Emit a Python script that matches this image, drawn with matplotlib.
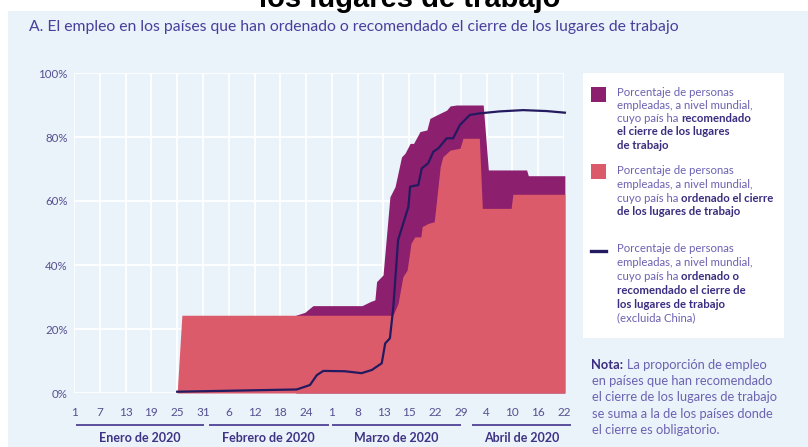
import matplotlib
matplotlib.use("Agg")
import matplotlib.pyplot as plt
from matplotlib.patches import Rectangle
from matplotlib.lines import Line2D
import matplotlib.transforms as mtransforms

# ---------------- data ----------------
tick_labels = ["1", "7", "13", "19", "25", "31", "6", "12", "18", "24",
               "1", "8", "13", "15", "22", "29", "4", "10", "16", "22"]
tick_pos = [6 * i for i in range(len(tick_labels))]
months = ["Enero de 2020", "Febrero de 2020", "Marzo de 2020", "Abril de 2020"]
month_start = [0.6, 31.6, 60.3, 92.8]
month_end = [30.1, 59.0, 89.8, 115.4]
y_ticks = [0, 20, 40, 60, 80, 100]

# share (%) of employed people in countries that ORDERED closures
ordered_x = [24.0, 25.1, 74.2, 75.4, 76.5, 77.5, 78.4, 79.3, 80.7, 81.0, 82.4,
             83.8, 85.2, 85.8, 87.5, 89.8, 90.5, 94.3, 95.0, 101.7, 102.1, 114.2]
ordered_y = [0.0, 24.3, 24.3, 28.0, 36.3, 38.4, 46.8, 48.8, 48.8, 52.0, 53.0,
             53.5, 70.7, 73.8, 75.9, 76.5, 79.6, 79.6, 57.7, 57.7, 62.1, 62.1]

# ordered + recommended (%)
total_x = [51.6, 53.7, 55.6, 67.0, 69.0, 70.0, 70.4, 71.9, 73.5, 74.7, 76.2,
           77.0, 78.2, 79.0, 80.5, 82.1, 82.8, 84.4, 86.7, 87.5, 89.0, 95.2,
           96.4, 105.3, 105.7, 114.2]
total_y = [24.3, 25.2, 27.3, 27.3, 28.6, 29.1, 34.8, 36.9, 61.3, 64.5, 73.8,
           74.9, 78.0, 78.0, 81.7, 82.2, 85.8, 86.9, 88.4, 89.7, 90.0, 90.0,
           69.7, 69.7, 67.9, 67.9]

# ordered or recommended, excluding China (%)
line_x = [24.0, 51.8, 54.9, 56.5, 58.0, 63.0, 66.9, 69.3, 71.6, 72.4, 73.5,
          74.3, 75.4, 76.6, 77.8, 78.2, 80.1, 80.9, 82.4, 83.6, 84.8, 86.7,
          88.2, 89.8, 92.1, 94.5, 99.0, 104.5, 110.0, 114.2]
line_y = [0.4, 1.1, 2.5, 5.6, 6.9, 6.8, 6.2, 7.2, 9.3, 15.5, 17.1,
          27.0, 47.8, 53.0, 58.2, 64.5, 65.0, 70.2, 71.8, 75.4, 76.5, 79.6,
          79.6, 83.8, 86.9, 87.4, 88.0, 88.4, 88.1, 87.6]

# ---------------- style ----------------
W, H = 808, 447
BG = "#EAF2FA"
C_REC = "#8C1F6E"
C_ORD = "#DC5B6B"
C_LINE = "#241A60"
C_TXT = "#6C62B2"
C_BOLD = "#3A2C7E"
C_TICK = "#55508F"
FONT = "Lato"

plt.rcParams["font.family"] = [FONT, "DejaVu Sans"]

fig = plt.figure(figsize=(W / 100, H / 100), dpi=100, facecolor="white")


def fx(px):
    return px / W


def fy(py):
    return 1 - py / H


# panel background
fig.patches.append(Rectangle((fx(8), 0), 1 - fx(8), fy(11), transform=fig.transFigure,
                             facecolor=BG, edgecolor="none", zorder=-5))

# clipped main title (only its lower part visible)
fig.text(fx(410), fy(7), "los lugares de trabajo", fontsize=21, fontweight="bold",
         family="Liberation Sans", color="black", ha="center", va="baseline", zorder=6)

# subtitle
fig.text(fx(29), fy(27), "A. El empleo en los países que han ordenado o recomendado el cierre de los lugares de trabajo",
         fontsize=11.3, color="#4A3E9C", ha="left", va="center")

# ---------------- axes ----------------
ax = fig.add_axes([fx(74), fy(393), fx(564) - fx(74), fy(73) - fy(393)])
ax.set_zorder(2)
ax.set_facecolor(BG)
ax.set_xlim(0, 114)
ax.set_ylim(0, 100)
for s in ax.spines.values():
    s.set_visible(False)
ax.set_axisbelow(True)
ax.grid(True, color="white", linewidth=1.3)
ax.set_xticks(tick_pos)
ax.set_xticklabels(tick_labels)
ax.set_yticks(y_ticks)
ax.set_yticklabels([f"{v}%" for v in y_ticks])
ax.tick_params(axis="x", length=0, pad=10, labelsize=8.5, labelcolor=C_TICK)
ax.tick_params(axis="y", length=0, pad=4.5, labelsize=8.3, labelcolor=C_TICK)

ax.fill_between(total_x, 0, total_y, color=C_REC, linewidth=0, zorder=2, clip_on=False)
ax.fill_between(ordered_x, 0, ordered_y, color=C_ORD, linewidth=0, zorder=3, clip_on=False)
ax.plot(line_x, line_y, color=C_LINE, linewidth=1.6, zorder=4, clip_on=False)

# month brackets
trans = mtransforms.blended_transform_factory(ax.transData, fig.transFigure)
for name, a, b in zip(months, month_start, month_end):
    fig.add_artist(Line2D([a, b], [fy(425), fy(425)], transform=trans,
                          color="#5B4E9C", linewidth=1.4))
    fig.text((a + b) / 2, fy(437.5), name, transform=trans, ha="center", va="center",
             fontsize=9.0, fontweight="bold", color="#3F3484")

# ---------------- legend ----------------
fig.patches.append(Rectangle((fx(583), fy(338)), fx(784) - fx(583), fy(73) - fy(338),
                             transform=fig.transFigure, facecolor="white",
                             edgecolor="none", zorder=1))
fig.patches.append(Rectangle((fx(591), fy(102)), fx(15), 15 / H, transform=fig.transFigure,
                             facecolor=C_REC, edgecolor="none", zorder=2))
fig.patches.append(Rectangle((fx(591), fy(179)), fx(15), 15 / H, transform=fig.transFigure,
                             facecolor=C_ORD, edgecolor="none", zorder=2))
fig.add_artist(Line2D([fx(591), fx(606)], [fy(250.5), fy(250.5)], transform=fig.transFigure,
                      color=C_LINE, linewidth=2.4, zorder=3))

renderer = fig.canvas.get_renderer()


def text_width(s, size, bold):
    t = fig.text(0, 0, s, fontsize=size, fontweight="bold" if bold else "normal")
    w = t.get_window_extent(renderer=renderer).width
    t.remove()
    return w


def seg_line(x_px, y_px, segments, size):
    x = x_px
    for s, bold in segments:
        lead = len(s) - len(s.lstrip(" "))
        core = s.strip(" ")
        if lead:
            x += lead * (text_width("a a", size, bold) - text_width("aa", size, bold))
        t = fig.text(fx(x), fy(y_px + 3.8), core, fontsize=size,
                     fontweight="bold" if bold else "normal",
                     color=C_BOLD if bold else C_TXT, ha="left", va="baseline", zorder=5)
        x += t.get_window_extent(renderer=renderer).width


leg_size = 8.2
blocks = [
    (91.7, 13.3, [[("Porcentaje de personas", False)],
                  [("empleadas, a nivel mundial,", False)],
                  [("cuyo país ha", False), (" recomendado", True)],
                  [("el cierre de los lugares", True)],
                  [("de trabajo", True)]]),
    (170.0, 13.9, [[("Porcentaje de personas", False)],
                   [("empleadas, a nivel mundial,", False)],
                   [("cuyo país ha", False), (" ordenado el cierre", True)],
                   [("de los lugares de trabajo", True)]]),
    (248.3, 13.9, [[("Porcentaje de personas", False)],
                   [("empleadas, a nivel mundial,", False)],
                   [("cuyo país ha", False), (" ordenado o", True)],
                   [("recomendado el cierre de", True)],
                   [("los lugares de trabajo", True)],
                   [("(excluida China)", False)]]),
]
for y0, step, lines in blocks:
    for i, segs in enumerate(lines):
        seg_line(617, y0 + i * step, segs, leg_size)

note_lines = [
    [("Nota:", True), (" La proporción de empleo", False)],
    [("en países que han recomendado", False)],
    [("el cierre de los lugares de trabajo", False)],
    [("se suma a la de los países donde", False)],
    [("el cierre es obligatorio.", False)],
]
for i, segs in enumerate(note_lines):
    seg_line(591.5, 365 + i * 16.3, segs, 9.3)

fig.savefig("out.png", dpi=100, facecolor=fig.get_facecolor())
